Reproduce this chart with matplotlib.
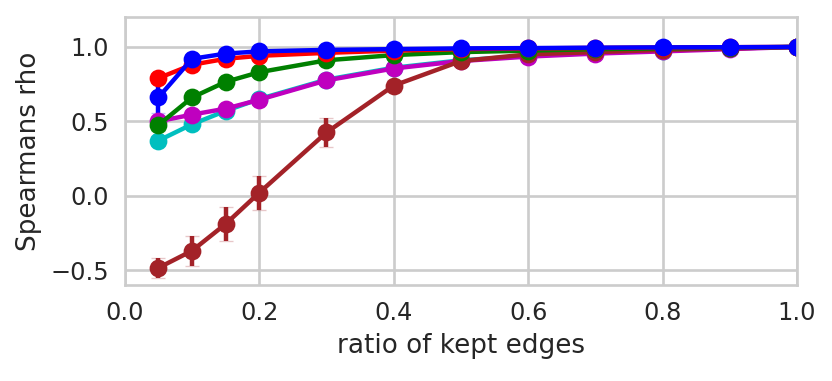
import matplotlib
matplotlib.use("Agg")
import matplotlib.pyplot as plt
import seaborn as sns

sns.set_style("whitegrid")

ratios = [0.05, 0.1, 0.15, 0.2, 0.3, 0.4, 0.5, 0.6, 0.7, 0.8, 0.9, 1.0]

cyan_vals = [0.37, 0.48, 0.57, 0.65, 0.78, 0.86, 0.91, 0.94, 0.96, 0.975, 0.99, 1.0]
cyan_err = [0.03, 0.02, 0.02, 0.02, 0.015, 0.01, 0.01, 0.01, 0.005, 0.005, 0.005, 0.0]
magenta_vals = [0.50, 0.545, 0.585, 0.645, 0.775, 0.855, 0.905, 0.935, 0.955, 0.97, 0.985, 1.0]
magenta_err = [0.02, 0.02, 0.02, 0.02, 0.015, 0.01, 0.01, 0.01, 0.005, 0.005, 0.005, 0.0]
brown_vals = [-0.485, -0.37, -0.19, 0.02, 0.425, 0.74, 0.905, 0.95, 0.965, 0.98, 0.99, 1.0]
brown_err = [0.065, 0.1, 0.115, 0.115, 0.1, 0.04, 0.02, 0.01, 0.01, 0.005, 0.005, 0.0]
green_vals = [0.475, 0.66, 0.765, 0.83, 0.91, 0.945, 0.965, 0.975, 0.985, 0.99, 0.995, 1.0]
green_err = [0.04, 0.02, 0.02, 0.02, 0.01, 0.01, 0.005, 0.005, 0.005, 0.0, 0.0, 0.0]
red_vals = [0.79, 0.88, 0.92, 0.94, 0.96, 0.975, 0.985, 0.99, 0.993, 0.996, 0.998, 1.0]
red_err = [0.03, 0.01, 0.01, 0.01, 0.005, 0.005, 0.0, 0.0, 0.0, 0.0, 0.0, 0.0]
blue_vals = [0.66, 0.92, 0.955, 0.97, 0.98, 0.985, 0.99, 0.992, 0.995, 0.997, 0.998, 1.0]
blue_err = [0.105, 0.02, 0.01, 0.01, 0.005, 0.005, 0.0, 0.0, 0.0, 0.0, 0.0, 0.0]

series = [
    (cyan_vals, cyan_err, "c"),
    (magenta_vals, magenta_err, "m"),
    (brown_vals, brown_err, "#a32228"),
    (green_vals, green_err, "g"),
    (red_vals, red_err, "r"),
    (blue_vals, blue_err, "b"),
]

fig = plt.figure(figsize=(5.2, 2.38125), dpi=160)
ax = fig.add_axes([0.150, 0.252, 0.808, 0.703])

for vals, err, col in series:
    line, caps, bars = ax.errorbar(ratios, vals, yerr=err, fmt="-o", color=col,
                                   lw=2.0, ms=7, elinewidth=2.0, capsize=3,
                                   capthick=0.6, ecolor=col)
    for c in caps:
        c.set_alpha(0.25)

ax.set_xlim(0, 1.0)
ax.set_ylim(-0.6, 1.2)
ax.set_xticks([0.0, 0.2, 0.4, 0.6, 0.8, 1.0])
ax.set_yticks([-0.5, 0.0, 0.5, 1.0])
ax.tick_params(labelsize=10.8, colors="#262626")
ax.set_xlabel("ratio of kept edges", fontsize=11.8, color="#262626")
ax.set_ylabel("Spearmans rho", fontsize=11.8, color="#262626")
for s in ax.spines.values():
    s.set_color("#cccccc")
    s.set_linewidth(1.2)
ax.grid(color="#cccccc", lw=1.2)

fig.savefig("out.png", dpi=160)
